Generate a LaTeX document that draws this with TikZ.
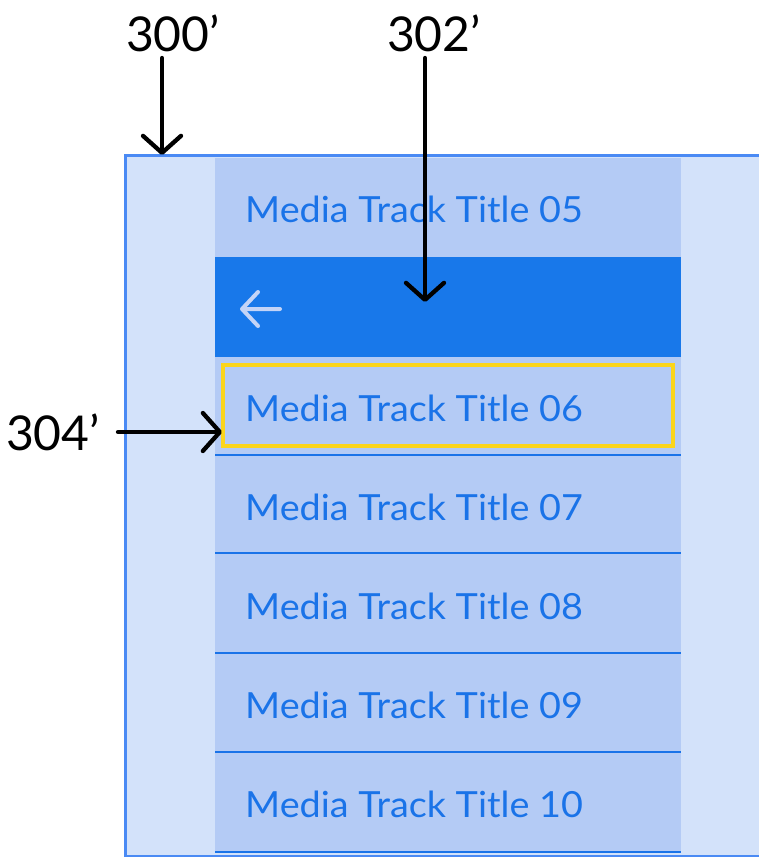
\documentclass[tikz,border=0pt]{standalone}
\usepackage{fontspec}
\usepackage{graphicx}
\setmainfont{Lato}
\usetikzlibrary{arrows.meta}
\definecolor{frameline}{HTML}{4A8AF4}
\definecolor{framefill}{HTML}{D3E2FA}
\definecolor{listfill}{HTML}{B4CBF5}
\definecolor{barfill}{HTML}{1878EA}
\definecolor{textblue}{HTML}{1A73E8}
\definecolor{focus}{HTML}{FBD51C}
\definecolor{iconlight}{HTML}{C4D4F7}
% track titles are set slightly wide
\newcommand{\tracktitle}[1]{\scalebox{1.05}[1]{#1}}
\tikzset{
  tracktext/.style={anchor=base west, inner sep=0pt, text=textblue, font=\fontsize{36}{40}\selectfont},
  reflabel/.style={inner sep=0pt, text=black, font=\fontsize{48}{50}\selectfont},
  refarrow/.style={line width=4.3pt, -{Straight Barb[length=17pt,width=38pt,line cap=round,line join=round]}, line cap=round},
  separator/.style={line width=2.8pt, draw=textblue}
}
\begin{document}
\begin{tikzpicture}[x=1pt,y=-1pt]
\useasboundingbox (0,0) rectangle (758,857);
% device frame
\fill[framefill] (125,155) rectangle (770,856);
\draw[frameline, line width=3pt] (770,155) -- (125,155) -- (125,856) -- (770,856);
% list column
\fill[listfill] (215,158) rectangle (681,852);
% header bar with back icon
\fill[barfill] (215,257) rectangle (681,357);
\draw[iconlight, line width=4pt, line cap=round, line join=round]
  (258,292) -- (242,309) -- (258,326) (242,309) -- (280,309);
% row separators
\foreach \y in {455,553,653,752,852}
  \draw[separator] (215,\y) -- (681,\y);
% track titles
\node[tracktext] (t05) at (245,222) {\tracktitle{Media Track Title 05}};
\node[tracktext] (t06) at (245,421) {\tracktitle{Media Track Title 06}};
\node[tracktext] (t07) at (245,520) {\tracktitle{Media Track Title 07}};
\node[tracktext] (t08) at (245,619) {\tracktitle{Media Track Title 08}};
\node[tracktext] (t09) at (245,718) {\tracktitle{Media Track Title 09}};
\node[tracktext] (t10) at (245,817) {\tracktitle{Media Track Title 10}};
% focused row
\draw[focus, line width=3.5pt] (223,365) rectangle (673,446);
\coordinate (focusedge) at (222,432);
\coordinate (frametop) at (162,155);
\coordinate (bartarget) at (425,302);
% reference labels
\node[reflabel] (l300) at (173,33) {300’};
\node[reflabel] (l302) at (434,33) {302’};
\node[reflabel] (l304) at (53,432) {304’};
\draw[refarrow] (162,58) -- (frametop);
\draw[refarrow] (425,58) -- (bartarget);
\draw[refarrow] (118,432) -- (focusedge);
\end{tikzpicture}
\end{document}
